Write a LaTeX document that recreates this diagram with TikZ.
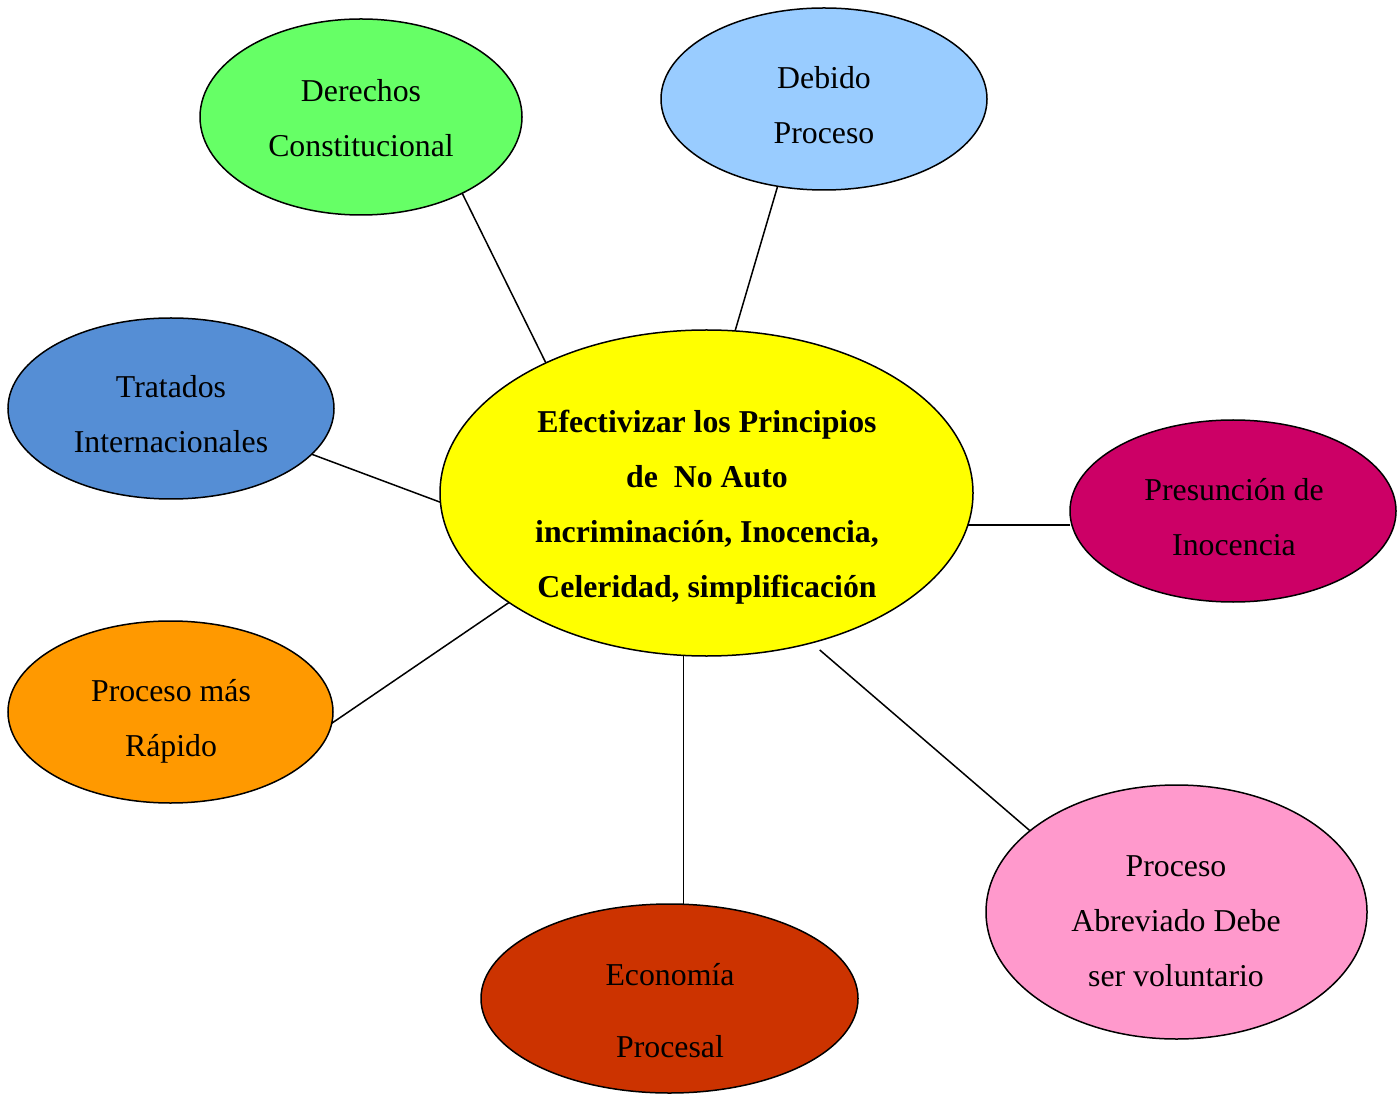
\documentclass[tikz,border=0pt]{standalone}
\usepackage{fontspec}
\setmainfont{Liberation Serif}
\usetikzlibrary{shapes.geometric,calc}
\definecolor{cgreen}{HTML}{66FF66}
\definecolor{clblue}{HTML}{99CCFF}
\definecolor{cblue}{HTML}{558ED5}
\definecolor{cyellow}{HTML}{FFFF00}
\definecolor{cmag}{HTML}{CC0066}
\definecolor{corange}{HTML}{FF9900}
\definecolor{cred}{HTML}{CC3300}
\definecolor{cpink}{HTML}{FF99CC}
\begin{document}
\begin{tikzpicture}[x=0.5pt,y=-0.5pt,
  oval/.style={ellipse,draw=black,line width=0.75pt,inner sep=0pt,outer sep=0pt},
  lbl/.style={align=center,inner sep=0pt,font=\fontsize{15.9}{27.5}\selectfont},
  link/.style={draw=black,line width=0.75pt}]
\useasboundingbox (0,0) rectangle (1400,1095);
% ellipses
\node[oval,fill=cgreen,minimum width=161pt,minimum height=98pt] (der) at (361,117) {};
\node[oval,fill=clblue,minimum width=163pt,minimum height=91pt] (deb) at (824,99) {};
\node[oval,fill=cblue,minimum width=163pt,minimum height=90.5pt] (tra) at (171,408.5) {};
\node[oval,fill=cyellow,minimum width=266.5pt,minimum height=163pt] (cen) at (706.5,493) {};
\node[oval,fill=cmag,minimum width=163pt,minimum height=91pt] (pre) at (1233,511) {};
\node[oval,fill=corange,minimum width=162.5pt,minimum height=91pt] (rap) at (170.5,712) {};
\node[oval,fill=cred,minimum width=188.5pt,minimum height=94.5pt] (eco) at (669.5,998.5) {};
\node[oval,fill=cpink,minimum width=190.5pt,minimum height=127pt] (abr) at (1176.5,912) {};
% texts
\node[lbl] (tder) at (361,118) {Derechos\\Constitucional};
\node[lbl] (tdeb) at (824,105) {Debido\\Proceso};
\node[lbl] (ttra) at (171,414) {Tratados\\Internacionales};
\node[lbl,font=\fontsize{15.9}{27.5}\selectfont\bfseries] (tcen) at (707,507)
  {Efectivizar los Principios\\de\ \ No Auto\\incriminación, Inocencia,\\Celeridad, simplificación};
\node[lbl] (tpre) at (1234,517) {Presunción de\\Inocencia};
\node[lbl] (trap) at (171,721) {Proceso más\\Rápido};
\node[lbl,font=\fontsize{15.9}{36}\selectfont] (teco) at (670,1011) {Economía\\Procesal};
\node[lbl] (tabr) at (1176,921) {Proceso\\Abreviado Debe\\ser voluntario};
% connectors
\coordinate (cenbr) at ($(cen.-54.8)+(5,8)$);
\draw[link] (der.-37.2) -- (cen.141.1);
\draw[link] (deb.-118.8) -- (cen.80.3);
\draw[link] (tra.-18.7) -- (cen.-178.7);
\draw[link] (cen.-7.1) -- (cen.-7.1 -| pre.west);
\draw[link] (rap.-4.2) -- (cen.-151.3);
\draw[link] (cen.-98) -- (cen.-98 |- eco.north);
\draw[link] (abr.151.1) -- (cenbr);
\end{tikzpicture}
\end{document}
